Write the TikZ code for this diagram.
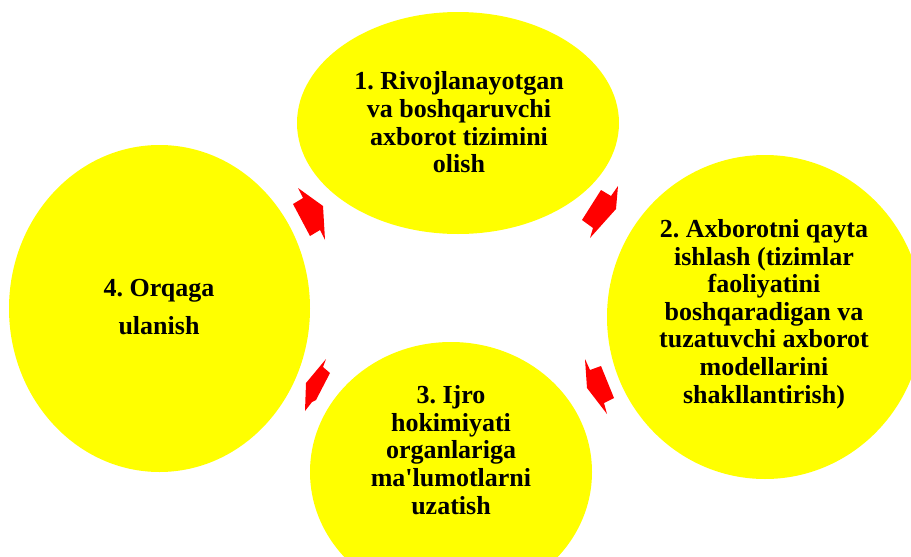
\documentclass[tikz,border=0pt]{standalone}
\usepackage{fontspec}
\setmainfont{Liberation Serif}
\usetikzlibrary{shapes.geometric}
\definecolor{bubbleyellow}{RGB}{255,255,0}
\definecolor{arrowred}{RGB}{255,0,0}
\font\plainquote="Liberation Serif/B" at 26pt
\frenchspacing
\begin{document}
\begin{tikzpicture}[x=1pt,y=-1pt,
  bubble/.style={ellipse, fill=bubbleyellow, draw=none, inner sep=0pt},
  caption/.style={align=center, inner sep=0pt, font=\fontsize{26}{27.6}\selectfont\bfseries},
  widecaption/.style={caption, font=\fontsize{26}{38}\selectfont\bfseries},
  blockarrow/.style={fill=arrowred, draw=none}]
\useasboundingbox (0,0) rectangle (911,557);
\clip (0,0) rectangle (911,557);
\fill[white] (0,0) rectangle (911,557);
% bubbles
\node[bubble, minimum width=322pt, minimum height=222pt] (e1) at (458,123) {};
\node[bubble, minimum width=316pt, minimum height=324pt] (e2) at (765,317) {};
\node[bubble, minimum width=282pt, minimum height=260pt] (e3) at (451,472) {};
\node[bubble, minimum width=301pt, minimum height=327pt] (e4) at (159.5,308.5) {};
% captions
\node[caption] (t1) at (459,122.5) {1. Rivojlanayotgan\\va boshqaruvchi\\axborot tizimini\\olish};
\node[caption] (t2) at (764,314) {2. Axborotni qayta\\ishlash (tizimlar\\faoliyatini\\boshqaradigan va\\tuzatuvchi axborot\\modellarini\\shakllantirish)};
\node[caption] (t3) at (451,450) {3. Ijro\\hokimiyati\\organlariga\\ma{\plainquote '}lumotlarni\\uzatish};
\node[widecaption] (t4) at (159,307) {4. Orqaga\\ulanish};
% block arrows
\fill[blockarrow] (298,188) -- (303,198) -- (293,204) -- (310,236) -- (320,230) -- (325,240) -- (323,206) -- cycle;
\fill[blockarrow] (601,190) -- (611,196) -- (618,186) -- (616,209) -- (590,238) -- (593,228) -- (582,220) -- cycle;
\fill[blockarrow] (585,359) -- (590,370) -- (601,366) -- (614,398) -- (604,403) -- (607,414) -- (587,388) -- cycle;
\fill[blockarrow] (326,359) -- (323,367) -- (330,373) -- (316,400) -- (312,402) -- (305,411) -- (306,383) -- cycle;
\end{tikzpicture}
\end{document}
